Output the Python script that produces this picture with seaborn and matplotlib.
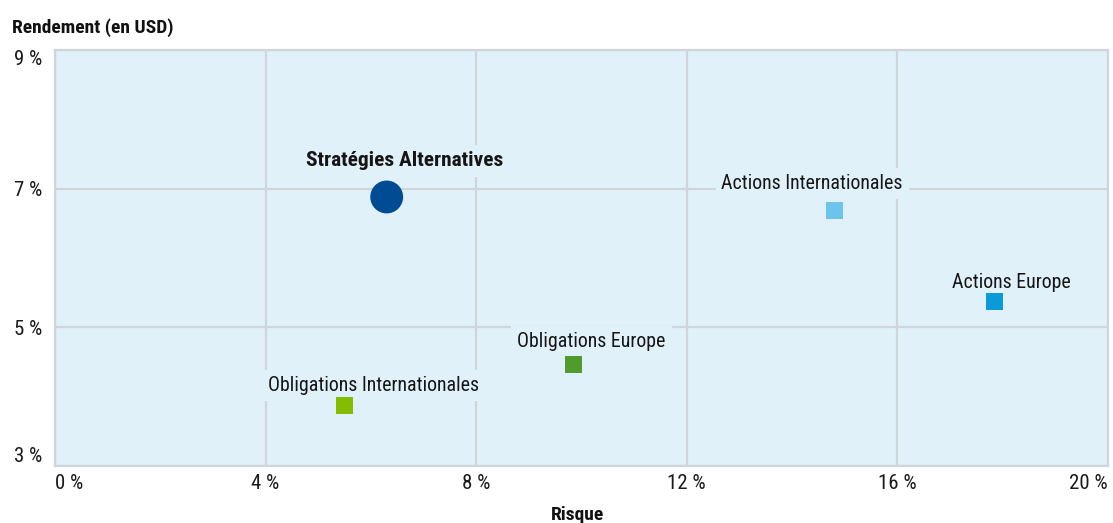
import matplotlib
matplotlib.use("Agg")
import matplotlib.pyplot as plt
import seaborn as sns
import pandas as pd
from matplotlib import font_manager

names = ["Stratégies Alternatives", "Actions Internationales", "Actions Europe",
         "Obligations Europe", "Obligations Internationales"]
risk = [6.3, 14.8, 17.85, 9.85, 5.5]
returns = [6.88, 6.69, 5.37, 4.47, 3.87]
colors = ["#004b93", "#6cc4ea", "#0a9ad8", "#4f9c2c", "#84bc00"]
markers = ["o", "s", "s", "s", "s"]
sizes = [560, 150, 150, 150, 150]
x_ticks = [0, 4, 8, 12, 16, 20]
y_ticks = [3, 5, 7, 9]

available = {f.name for f in font_manager.fontManager.ttflist}
prefs = ["Roboto Condensed", "Archivo Narrow", "PT Sans Narrow",
         "Fira Sans Condensed", "IBM Plex Sans Condensed", "DejaVu Sans"]
fam = next(p for p in prefs if p in available)

sns.set_theme(style="white")
plt.rcParams["font.family"] = [fam, "DejaVu Sans"]

bg = "#e1f1f9"
grid = "#cfd5db"

df = pd.DataFrame({"name": names, "risk": risk, "ret": returns})

fig = plt.figure(figsize=(11.13, 5.23), dpi=100)
ax = fig.add_axes([55 / 1113, 1 - 466 / 523, (1108 - 55) / 1113, (466 - 50) / 523])
ax.set_facecolor(bg)

sns.scatterplot(data=df, x="risk", y="ret", hue="name", style="name", size="name",
                palette=dict(zip(names, colors)), markers=dict(zip(names, markers)),
                sizes=dict(zip(names, sizes)), linewidth=0, legend=False, ax=ax, zorder=5)

ax.set_xlim(0, 20)
ax.set_ylim(3, 9)
ax.set_xticks(x_ticks)
ax.set_yticks(y_ticks)
ax.set_xticklabels([f"{v} %" for v in x_ticks], fontsize=15, color="#1a1a1a")
ax.set_yticklabels([f"{v} %" for v in y_ticks], fontsize=15, color="#1a1a1a")
xl = ax.get_xticklabels()
xl[0].set_ha("left")
xl[-1].set_ha("right")
yl = ax.get_yticklabels()
yl[0].set_va("bottom")
yl[-1].set_va("top")
ax.tick_params(axis="x", length=0, pad=6)
ax.tick_params(axis="y", length=0, pad=9)
ax.grid(True, color=grid, linewidth=1.6, zorder=0)
ax.set_axisbelow(True)
for s in ax.spines.values():
    s.set_color(grid)
    s.set_linewidth(1.6)

ax.set_xlabel("")
ax.set_ylabel("")
fig.text(12 / 1113, 1 - 28 / 523, "Rendement (en USD)", fontsize=14, fontweight="bold",
         ha="left", va="center", color="#111111")
fig.text(578 / 1113, 1 - 515 / 523, "Risque", fontsize=14, fontweight="bold",
         ha="center", va="center", color="#111111")

offsets = [(18, 36), (-22, 27), (17, 19), (18, 23), (29, 20)]
for i, n in enumerate(names):
    ax.annotate(n, (risk[i], returns[i]), xytext=offsets[i], textcoords="offset pixels",
                ha="center", va="center", fontsize=15.4 if i == 0 else 14.3,
                fontweight="bold" if i == 0 else "normal", color="#151515",
                bbox=dict(boxstyle="square,pad=0.3", fc=bg, ec="none"), zorder=4)

fig.savefig("out.png", dpi=100)
